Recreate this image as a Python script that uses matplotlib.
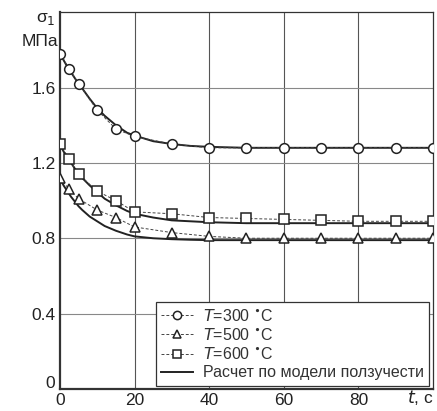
#relaxation curves sigma1 vs t, three temperatures + creep model
import numpy as np
import matplotlib
matplotlib.use('Agg')
import matplotlib.pyplot as plt

plt.rcParams['font.family'] = ['Liberation Sans', 'DejaVu Sans']

#experiment points
t_exp   = [0, 2.5, 5, 10, 15, 20, 30, 40, 50, 60, 70, 80, 90, 100]
s_300   = [1.78, 1.70, 1.62, 1.48, 1.38, 1.34, 1.30, 1.28, 1.28, 1.28, 1.28, 1.28, 1.28, 1.28]
s_500   = [1.12, 1.06, 1.01, 0.95, 0.91, 0.86, 0.83, 0.81, 0.80, 0.80, 0.80, 0.80, 0.80, 0.80]
s_600   = [1.30, 1.22, 1.14, 1.05, 1.00, 0.94, 0.93, 0.91, 0.905, 0.90, 0.895, 0.89, 0.89, 0.89]

#model curves
t_mod   = [0, 1, 2, 3, 4, 5, 6, 8, 10, 12, 15, 18, 20, 25, 30, 35, 40, 50, 60, 70, 80, 90, 100]
m_300   = [1.78, 1.745, 1.71, 1.68, 1.65, 1.62, 1.595, 1.54, 1.49, 1.45, 1.40, 1.36, 1.345, 1.315,
           1.30, 1.29, 1.285, 1.28, 1.28, 1.28, 1.28, 1.28, 1.28]
m_500   = [1.12, 1.08, 1.05, 1.02, 0.995, 0.97, 0.95, 0.915, 0.89, 0.865, 0.84, 0.82, 0.81, 0.80,
           0.795, 0.792, 0.79, 0.79, 0.79, 0.79, 0.79, 0.79, 0.79]
m_600   = [1.30, 1.26, 1.23, 1.20, 1.17, 1.145, 1.12, 1.08, 1.045, 1.01, 0.975, 0.945, 0.93, 0.91,
           0.895, 0.89, 0.885, 0.88, 0.88, 0.88, 0.88, 0.88, 0.88]

x_ticks = [0, 20, 40, 60, 80]
y_ticks = [0.4, 0.8, 1.2, 1.6]

fig = plt.figure(figsize=(4.37, 4.11), dpi=100)
ax = fig.add_axes([0.137, 0.0535, 0.854, 0.917])

#grid
for x in x_ticks[1:]:
    ax.axvline(x, color='#555555', lw=0.8, zorder=0)
for y in y_ticks:
    ax.axhline(y, color='#888888', lw=0.8, zorder=0)

mk = dict(mfc='white', mec='#222222', mew=1.1, ms=7, color='#444444', ls=(0, (3, 2)), lw=0.7)
ax.plot(t_mod, m_300, c='#222222', lw=1.4, zorder=2)
ax.plot(t_mod, m_500, c='#222222', lw=1.4, zorder=2)
ax.plot(t_mod, m_600, c='#222222', lw=1.4, zorder=2)
ax.plot(t_exp, s_300, marker='o', label='$T$=300 $^{\\bullet}$C', zorder=3, **mk)
ax.plot(t_exp, s_500, marker='^', label='$T$=500 $^{\\bullet}$C', zorder=3, **mk)
ax.plot(t_exp, s_600, marker='s', label='$T$=600 $^{\\bullet}$C', zorder=3, **dict(mk, ms=6.5))
ax.plot([], [], c='#222222', lw=1.4, label='Расчет по модели ползучести')

ax.set_xlim(0, 100)
ax.set_ylim(0, 2.0)
ax.set_xticks(x_ticks)
ax.set_yticks(y_ticks)
ax.tick_params(length=0, labelsize=12.5, pad=3, colors='#222222')
for s in ax.spines.values():
    s.set_color('#333333')
    s.set_linewidth(0.9)
ax.spines['left'].set_linewidth(1.6)
ax.spines['bottom'].set_linewidth(1.6)

#axis captions in place of top / right ticks
fig.text(0.105, 0.935, 'σ$_{\\rm 1}$', fontsize=12.5, ha='center', va='bottom', color='#222222')
fig.text(0.133, 0.880, 'МПа', fontsize=12.5, ha='right', va='bottom', color='#222222')
fig.text(0.125, 0.068, '0', fontsize=12.5, ha='right', va='center', color='#222222')
fig.text(0.993, 0.010, '$t$, c', fontsize=12.5, ha='right', va='bottom', color='#222222')

mpl_leg = ax.legend(loc='lower right', bbox_to_anchor=(0.99, 0.008), fontsize=11.5,
                    frameon=True, fancybox=False, edgecolor='#333333', framealpha=1,
                    handlelength=2.0, handletextpad=0.6, labelspacing=0.2, borderpad=0.35,
                    borderaxespad=0, markerscale=0.85)
mpl_leg.get_frame().set_linewidth(0.9)
for txt in mpl_leg.get_texts():
    txt.set_color('#333333')

fig.savefig('out.png', dpi=100)
